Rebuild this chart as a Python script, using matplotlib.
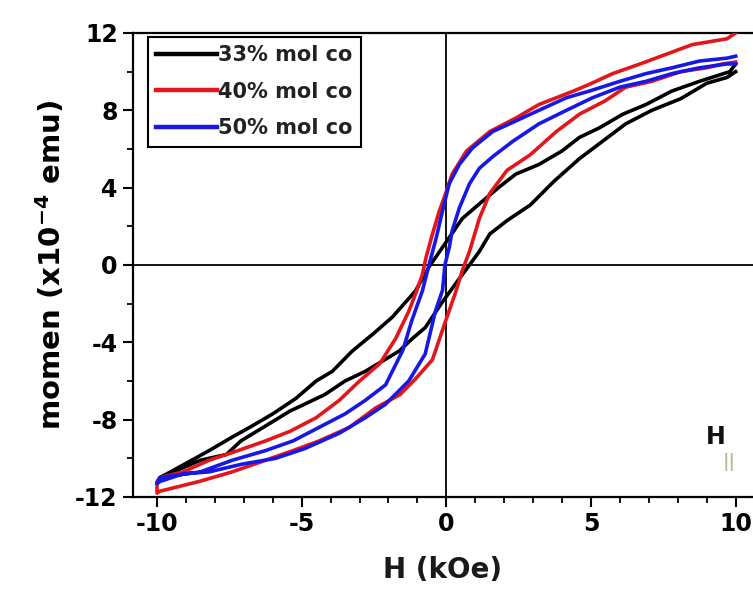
import matplotlib
matplotlib.use('Agg')
import matplotlib.pyplot as plt
from matplotlib.ticker import MultipleLocator

# 33% mol co : descending branch (+10 -> -10), then ascending branch (-10 -> +10)
h_33_down = [10, 9.8, 8.75, 7.8, 6.9, 6.1, 5.3, 4.6, 4.0, 3.2, 2.4, 1.8, 1.25, 0.55, 0.0,
             -0.6, -1.07, -1.87, -2.56, -3.25, -3.94, -4.5, -5.2, -6.0, -6.8, -7.4, -8.2,
             -8.8, -9.9, -10]
m_33_down = [10.4, 10.0, 9.5, 9.0, 8.3, 7.8, 7.1, 6.6, 5.9, 5.2, 4.7, 4.0, 3.3, 2.4, 1.2,
             -0.1, -1.35, -2.7, -3.6, -4.45, -5.5, -6.0, -6.9, -7.7, -8.4, -8.9, -9.6,
             -10.1, -11.0, -11.3]
h_33_up = [-10, -9.9, -8.5, -7.6, -7.1, -6.0, -5.4, -4.9, -4.2, -3.5, -2.8, -1.63, -1.17,
           -0.73, -0.13, 0.45, 0.8, 1.14, 1.5, 2.1, 2.9, 3.7, 4.6, 5.4, 6.2, 7.1, 8.1, 9.0,
           9.7, 10]
m_33_up = [-11.3, -11.0, -10.1, -9.8, -9.1, -8.1, -7.55, -7.2, -6.7, -6.0, -5.5, -4.45, -3.8,
           -3.24, -1.9, -0.7, 0.0, 0.7, 1.6, 2.3, 3.1, 4.3, 5.5, 6.4, 7.3, 8.0, 8.6, 9.4,
           9.7, 10.0]

# 40% mol co
h_40_down = [10, 9.7, 8.5, 7.6, 6.7, 5.75, 4.95, 4.4, 3.2, 2.4, 1.5, 0.7, 0.2, 0.0, -0.24,
             -0.48, -0.7, -0.83, -1.04, -1.3, -1.75, -2.3, -3.0, -3.7, -4.5, -5.4, -6.25,
             -7.2, -8.2, -9.1, -9.9, -10]
m_40_down = [12.0, 11.7, 11.4, 10.9, 10.4, 9.9, 9.35, 9.0, 8.3, 7.6, 6.9, 5.9, 4.7, 3.8, 2.8,
             1.6, 0.4, -0.5, -1.4, -2.4, -3.8, -5.1, -6.0, -7.0, -7.9, -8.6, -9.1,
             -9.6, -10.1, -10.7, -11.0, -11.2]
h_40_up = [-10, -9.9, -8.55, -7.4, -6.25, -5.3, -4.4, -3.35, -2.45, -1.6, -1.07, -0.48, -0.05,
           0.3, 0.55, 0.8, 1.14, 1.5, 2.1, 2.9, 3.8, 4.6, 5.5, 6.2, 7.1, 8.1, 9.0,
           9.55, 10]
m_40_up = [-11.8, -11.7, -11.2, -10.7, -10.1, -9.6, -9.1, -8.4, -7.4, -6.7, -5.9, -4.9, -3.0,
           -1.5, -0.3, 0.7, 2.4, 3.7, 4.9, 5.7, 6.9, 7.8, 8.5, 9.2, 9.5, 10.0, 10.2,
           10.4, 10.5]

# 50% mol co
h_50_down = [10, 9.7, 8.75, 7.8, 6.9, 6.0, 4.95, 4.15, 3.2, 2.4, 1.6, 0.9, 0.45, 0.1, -0.1,
             -0.35, -0.6, -0.83, -1.2, -1.5, -2.1, -2.8, -3.5, -4.4, -5.3, -6.25, -7.4,
             -8.5, -9.9, -10]
m_50_down = [10.8, 10.7, 10.55, 10.2, 9.9, 9.5, 9.0, 8.65, 8.0, 7.45, 6.9, 6.05, 5.2, 4.2, 3.0,
             1.4, 0.0, -1.35, -2.9, -4.4, -6.2, -7.0, -7.7, -8.4, -9.1, -9.6, -10.1,
             -10.7, -11.0, -11.3]
h_50_up = [-10, -9.9, -9.1, -8.2, -7.06, -5.9, -4.9, -3.7, -2.8, -2.1, -1.3, -0.73, -0.38,
           -0.13, -0.05, 0.1, 0.2, 0.45, 0.8, 1.14, 1.6, 2.3, 3.2, 4.15, 5.05, 6.0, 6.9, 7.8,
           8.75, 9.7, 10]
m_50_up = [-11.3, -11.2, -10.8, -10.7, -10.3, -10.0, -9.5, -8.7, -7.9, -7.2, -6.0, -4.6, -2.4,
           -1.3, 0.0, 0.9, 1.76, 2.95, 4.2, 5.0, 5.6, 6.4, 7.3, 8.0, 8.65, 9.2, 9.5, 9.9,
           10.2, 10.4, 10.4]

labels = ["33% mol co", "40% mol co", "50% mol co"]
colors = ["#000000", "#e3161b", "#1818e6"]


def main() -> None:
    plt.rcParams['font.family'] = ['DejaVu Sans']
    plt.rcParams['axes.unicode_minus'] = False

    fig = plt.figure(figsize=(7.53, 5.95), dpi=100)
    ax = fig.add_axes([133 / 753, 98 / 595, 620 / 753, 464 / 595])

    loops = [
        (h_33_down + h_33_up, m_33_down + m_33_up),
        (h_40_down + h_40_up, m_40_down + m_40_up),
        (h_50_down + h_50_up, m_50_down + m_50_up),
    ]
    for (h, m), lab, c in zip(loops, labels, colors):
        ax.plot(h, m, color=c, lw=2.6, label=lab, zorder=3)

    ax.axhline(0, color='k', lw=1.3, zorder=2)
    ax.axvline(0, color='k', lw=1.3, zorder=2)

    ax.set_xlim(-10.83, 10.6)
    ax.set_ylim(-12, 12)
    ax.xaxis.set_major_locator(MultipleLocator(5))
    ax.xaxis.set_minor_locator(MultipleLocator(1))
    ax.yaxis.set_major_locator(MultipleLocator(4))
    ax.yaxis.set_minor_locator(MultipleLocator(2))
    ax.tick_params(which='major', direction='out', length=7, width=1.5,
                   labelsize=17, pad=4)
    ax.tick_params(which='minor', direction='out', length=4.5, width=1.3)
    for lbl in ax.get_xticklabels() + ax.get_yticklabels():
        lbl.set_fontweight('bold')

    for side in ['left', 'bottom', 'top']:
        ax.spines[side].set_linewidth(1.6)
    ax.spines['right'].set_visible(False)

    ax.set_xlabel("H (kOe)", fontsize=20, fontweight='bold', labelpad=14, color='#1a1a1a')
    ax.set_ylabel(r"momen (x10$^{\mathbf{-4}}$ emu)", fontsize=21, fontweight='bold',
                  labelpad=6)

    leg = ax.legend(loc='upper left', bbox_to_anchor=(0.024, 0.992), borderaxespad=0,
                    fancybox=False, framealpha=1, edgecolor='k', handlelength=2.9,
                    handletextpad=0.05, labelspacing=0.8, borderpad=0.4,
                    prop={'size': 15, 'weight': 'bold'})
    leg.get_frame().set_linewidth(1.5)
    for line in leg.get_lines():
        line.set_linewidth(3.2)
    for t in leg.get_texts():
        t.set_color('#222222')

    ax.text(0.94, 0.13, "H", transform=ax.transAxes, fontsize=17, fontweight='bold',
            ha='center', va='center', color='#111111')
    ax.text(0.962, 0.075, "||", transform=ax.transAxes, fontsize=13, fontweight='bold',
            ha='center', va='center', color='#bdbd98')

    fig.savefig("out.png", dpi=100)


if __name__ == "__main__":
    main()
